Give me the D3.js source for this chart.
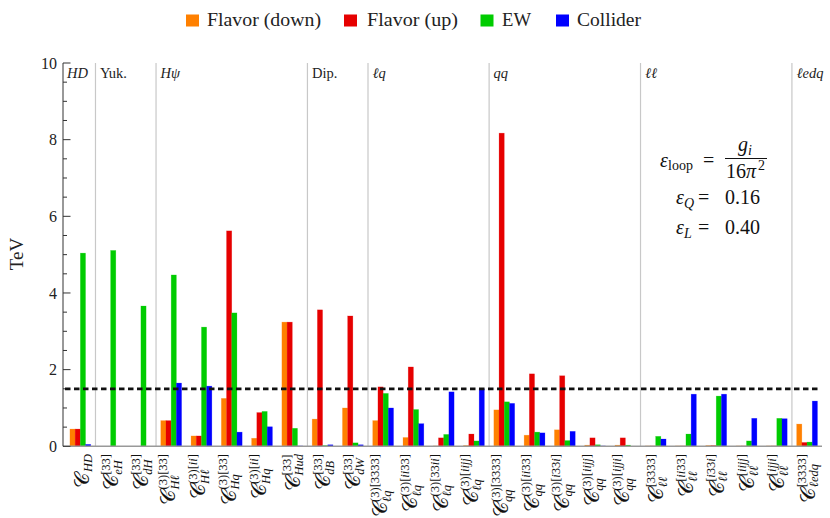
<!DOCTYPE html>
<html><head><meta charset="utf-8">
<script src="https://cdn.jsdelivr.net/npm/d3@7"></script>
<style>body{margin:0;background:#fff}svg{display:block}</style>
</head><body>
<svg id="chart" width="830" height="518"></svg>
<script>
// ---------------- data ----------------
const subLabels = ["HD","eH","dH","Hℓ","Hℓ","Hq","Hq","Hud","dB","dW","ℓq","ℓq","ℓq","ℓq","qq","qq","qq","qq","qq","ℓℓ","ℓℓ","ℓℓ","ℓℓ","ℓℓ","ℓedq"];
const supLabels = ["","[33]","[33]","(3)[33]","(3)[ii]","(3)[33]","(3)[ii]","[33]","[33]","[33]","(3)[3333]","(3)[ii33]","(3)[33ii]","(3)[iijj]","(3)[3333]","(3)[ii33]","(3)[i33i]","(3)[iijj]","(3)[ijji]","[3333]","[ii33]","[i33i]","[iijj]","[ijji]","[3333]"];
const seriesNames = ["Flavor (down)","Flavor (up)","EW","Collider"];
const flavorDown = [0.45,0,0,0.67,0.27,1.25,0.21,3.24,0.71,1.00,0.67,0.23,0.01,0.02,0.95,0.29,0.43,0.03,0.03,0.01,0.01,0.02,0.01,0.01,0.58];
const flavorUp   = [0.45,0,0,0.67,0.27,5.62,0.88,3.24,3.56,3.40,1.55,2.07,0.22,0.32,8.17,1.89,1.84,0.22,0.22,0.01,0.01,0.02,0.01,0.01,0.10];
const ew         = [5.04,5.11,3.66,4.47,3.11,3.48,0.91,0.47,0.02,0.09,1.38,0.96,0.31,0.14,1.16,0.37,0.15,0.04,0.03,0.26,0.32,1.31,0.14,0.73,0.11];
const collider   = [0.05,0,0,1.65,1.57,0.37,0.51,0.01,0.04,0.04,1.00,0.59,1.42,1.50,1.12,0.35,0.39,0.01,0,0.19,1.36,1.36,0.73,0.72,1.18];
const groupNames  = ["HD","Yuk.","Hψ","Dip.","ℓq","qq","ℓℓ","ℓedq"];
const groupStarts = [0,1,3,8,10,14,19,24];
const groupItalic = [true,false,true,false,true,true,true,true];
const yTicks = [0,2,4,6,8,10];
const threshold = 1.5;
const colors = ["#FF8000","#E60000","#00CC00","#0000FF"];

// ---------------- layout ----------------
const svg = d3.select("#chart");
const serif = "'Liberation Serif','Times New Roman',serif";
const N = subLabels.length;
const x = d3.scaleBand().domain(d3.range(N)).range([65.2, 822.2]).paddingInner(0).paddingOuter(0);
const y = d3.scaleLinear().domain([0,10]).range([446.3, 63]);
const xs = d3.scaleBand().domain(d3.range(4)).range([0, 20.8]);
const allSeries = [flavorDown, flavorUp, ew, collider];

// group separators
groupStarts.slice(1).forEach(s => {
  svg.append("line").attr("x1", x(s)).attr("x2", x(s)).attr("y1", y(10)).attr("y2", y(0))
    .attr("stroke", "#c8c8c8").attr("stroke-width", 1.2);
});
// group titles
groupNames.forEach((g,i) => {
  const gx = i === 0 ? 67 : x(groupStarts[i]) + 4.5;
  svg.append("text").attr("x", gx).attr("y", 78).attr("font-family", serif)
    .attr("font-size", 14.5).attr("font-style", groupItalic[i] ? "italic" : "normal")
    .attr("fill", "#222").text(g);
});

// bars
allSeries.forEach((vals, si) => {
  svg.append("g").selectAll("rect").data(vals).join("rect")
    .attr("x", (d,i) => x(i) + x.bandwidth()/2 - 10.4 + xs(si))
    .attr("width", xs.bandwidth())
    .attr("y", d => y(d))
    .attr("height", d => y(0) - y(d))
    .attr("fill", colors[si])
    .attr("stroke", colors[si]).attr("stroke-opacity", 0.35).attr("stroke-width", 0.6);
});

// bottom axis line
svg.append("line").attr("x1", 63).attr("x2", 822).attr("y1", y(0)).attr("y2", y(0))
  .attr("stroke", "#999").attr("stroke-width", 1.6);

// y axis
const yAxisG = svg.append("g").attr("transform", "translate(63,0)");
yAxisG.append("line").attr("x1",0).attr("x2",0).attr("y1", y(0)).attr("y2", y(10)).attr("stroke","#333").attr("stroke-width",1);
const minor = d3.range(0, 10.01, 0.5);
yAxisG.selectAll("line.t").data(minor).join("line").attr("class","t")
  .attr("x1",0).attr("x2", d => (d % 2 === 0) ? 7.5 : 4)
  .attr("y1", d => y(d)).attr("y2", d => y(d)).attr("stroke","#333").attr("stroke-width",1);
yAxisG.selectAll("text").data(yTicks).join("text")
  .attr("x", -6).attr("y", d => y(d)).attr("dy", "0.35em").attr("text-anchor","end")
  .attr("font-family", serif).attr("font-size", 16).attr("fill","#222").text(d => d);
svg.append("text").attr("transform","translate(23,254) rotate(-90)").attr("text-anchor","middle")
  .attr("font-family", serif).attr("font-size", 19).attr("fill","#222").text("TeV");

// threshold dashed line
svg.append("line").attr("x1", 65).attr("x2", 820).attr("y1", y(threshold)).attr("y2", y(threshold))
  .attr("stroke","#111").attr("stroke-width",2.8).attr("stroke-dasharray","5.5,3.5");

// x category labels (rotated)
function addScript(textSel, s) {
  const parts = s.match(/[a-zℓ]+|[^a-zℓ]+/g) || [];
  parts.forEach(p => {
    textSel.append("tspan").attr("font-style", /[a-zℓ]/.test(p) ? "italic" : "normal").text(p);
  });
}
subLabels.forEach((sub, i) => {
  const sup = supLabels[i];
  const delta = sup === "" ? 2 : (sup.startsWith("(3)") ? -2.5 : 1);
  const cx = x(i) + x.bandwidth()/2;
  const outer = svg.append("g").attr("transform", `translate(${cx},454) rotate(-90)`);
  const g = outer.append("g");
  const main = g.append("text").attr("font-family", serif).attr("font-size", 21).attr("fill","#111").text("𝒞");
  const mw = main.node().getComputedTextLength();
  const supT = g.append("text").attr("font-family", serif).attr("font-size", 12.5).attr("fill","#111").attr("y", -8.5);
  addScript(supT, sup);
  const subT = g.append("text").attr("font-family", serif).attr("font-size", 12.5).attr("fill","#111").attr("y", 3.5);
  subT.append("tspan").attr("font-style","italic").text(sub);
  const sw = Math.max(supT.node().getComputedTextLength(), subT.node().getComputedTextLength());
  const total = mw + 0.5 + sw;
  main.attr("x", -total);
  supT.attr("x", -total + mw + 0.5);
  subT.attr("x", -total + mw + 0.5);
  const bb = g.node().getBBox();
  const shift = delta - (bb.y + bb.height/2);
  g.attr("transform", `translate(0,${shift})`);
});

// legend
const legX = [186, 344, 480.5, 556];
const legTX = [207, 367, 502, 577];
const legW = [114, 91, 29, 64];
seriesNames.forEach((n, i) => {
  svg.append("rect").attr("x", legX[i]).attr("y", 14.5).attr("width", 13).attr("height", 12).attr("fill", colors[i]);
  svg.append("text").attr("x", legTX[i]).attr("y", 26).attr("font-family", serif).attr("font-size", 19)
    .attr("fill","#222").attr("textLength", legW[i]).attr("lengthAdjust","spacingAndGlyphs").text(n);
});

// annotation
const ann = svg.append("g").attr("font-family", serif).attr("fill","#111");
ann.append("text").attr("x", 660).attr("y", 166.5).attr("font-size", 20).attr("font-style","italic").text("ε");
ann.append("text").attr("x", 668).attr("y", 170).attr("font-size", 14).text("loop");
ann.append("text").attr("x", 703).attr("y", 166.5).attr("font-size", 20).text("=");
ann.append("line").attr("x1", 725).attr("x2", 767).attr("y1", 158.5).attr("y2", 158.5).attr("stroke","#111").attr("stroke-width",1);
ann.append("text").attr("x", 738).attr("y", 151).attr("font-size", 20).attr("font-style","italic").text("g");
ann.append("text").attr("x", 748).attr("y", 155).attr("font-size", 14).attr("font-style","italic").text("i");
ann.append("text").attr("x", 726).attr("y", 177.5).attr("font-size", 20).text("16");
ann.append("text").attr("x", 746).attr("y", 177.5).attr("font-size", 20).attr("font-style","italic").text("π");
ann.append("text").attr("x", 758).attr("y", 170).attr("font-size", 14).text("2");
[["Q","0.16",203.5],["L","0.40",233.5]].forEach(([s,v,yy]) => {
  ann.append("text").attr("x", 676).attr("y", yy).attr("font-size", 20).attr("font-style","italic").text("ε");
  ann.append("text").attr("x", 684).attr("y", yy+4).attr("font-size", 14).attr("font-style","italic").text(s);
  ann.append("text").attr("x", 698).attr("y", yy).attr("font-size", 20).text("=");
  ann.append("text").attr("x", 725).attr("y", yy).attr("font-size", 20).text(v);
});
</script>
</body></html>
